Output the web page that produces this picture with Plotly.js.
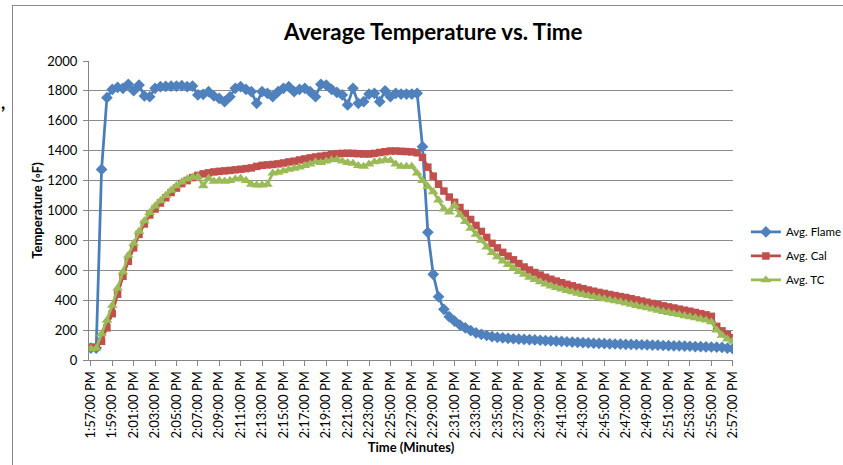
<!DOCTYPE html>
<html>
<head>
<meta charset="utf-8">
<script src="https://cdn.plot.ly/plotly-3.0.1.min.js"></script>
<style>
  html, body { margin:0; padding:0; background:#fff; }
  #wrap { position:relative; width:843px; height:465px; overflow:hidden; }
  #chart { position:absolute; left:0; top:0; width:843px; height:465px; }
  #frame { position:absolute; left:12px; top:5px; width:900px; height:500px;
           border-left:1px solid #8a8a8a; border-top:1px solid #8a8a8a; pointer-events:none; }
</style>
</head>
<body>
<div id="wrap">
  <div id="chart"></div>
  <div id="frame"></div>
</div>
<script>
// Categories: one reading every 30 seconds
var times = [
  "1:57:00 PM","1:57:30 PM","1:58:00 PM","1:58:30 PM","1:59:00 PM","1:59:30 PM",
  "2:00:00 PM","2:00:30 PM","2:01:00 PM","2:01:30 PM","2:02:00 PM","2:02:30 PM",
  "2:03:00 PM","2:03:30 PM","2:04:00 PM","2:04:30 PM","2:05:00 PM","2:05:30 PM",
  "2:06:00 PM","2:06:30 PM","2:07:00 PM","2:07:30 PM","2:08:00 PM","2:08:30 PM",
  "2:09:00 PM","2:09:30 PM","2:10:00 PM","2:10:30 PM","2:11:00 PM","2:11:30 PM",
  "2:12:00 PM","2:12:30 PM","2:13:00 PM","2:13:30 PM","2:14:00 PM","2:14:30 PM",
  "2:15:00 PM","2:15:30 PM","2:16:00 PM","2:16:30 PM","2:17:00 PM","2:17:30 PM",
  "2:18:00 PM","2:18:30 PM","2:19:00 PM","2:19:30 PM","2:20:00 PM","2:20:30 PM",
  "2:21:00 PM","2:21:30 PM","2:22:00 PM","2:22:30 PM","2:23:00 PM","2:23:30 PM",
  "2:24:00 PM","2:24:30 PM","2:25:00 PM","2:25:30 PM","2:26:00 PM","2:26:30 PM",
  "2:27:00 PM","2:27:30 PM","2:28:00 PM","2:28:30 PM","2:29:00 PM","2:29:30 PM",
  "2:30:00 PM","2:30:30 PM","2:31:00 PM","2:31:30 PM","2:32:00 PM","2:32:30 PM",
  "2:33:00 PM","2:33:30 PM","2:34:00 PM","2:34:30 PM","2:35:00 PM","2:35:30 PM",
  "2:36:00 PM","2:36:30 PM","2:37:00 PM","2:37:30 PM","2:38:00 PM","2:38:30 PM",
  "2:39:00 PM","2:39:30 PM","2:40:00 PM","2:40:30 PM","2:41:00 PM","2:41:30 PM",
  "2:42:00 PM","2:42:30 PM","2:43:00 PM","2:43:30 PM","2:44:00 PM","2:44:30 PM",
  "2:45:00 PM","2:45:30 PM","2:46:00 PM","2:46:30 PM","2:47:00 PM","2:47:30 PM",
  "2:48:00 PM","2:48:30 PM","2:49:00 PM","2:49:30 PM","2:50:00 PM","2:50:30 PM",
  "2:51:00 PM","2:51:30 PM","2:52:00 PM","2:52:30 PM","2:53:00 PM","2:53:30 PM",
  "2:54:00 PM","2:54:30 PM","2:55:00 PM","2:55:30 PM","2:56:00 PM","2:56:30 PM",
  "2:57:00 PM"
];

var tickLabels = [
  "1:57:00 PM","1:59:00 PM","2:01:00 PM","2:03:00 PM","2:05:00 PM","2:07:00 PM",
  "2:09:00 PM","2:11:00 PM","2:13:00 PM","2:15:00 PM","2:17:00 PM","2:19:00 PM",
  "2:21:00 PM","2:23:00 PM","2:25:00 PM","2:27:00 PM","2:29:00 PM","2:31:00 PM",
  "2:33:00 PM","2:35:00 PM","2:37:00 PM","2:39:00 PM","2:41:00 PM","2:43:00 PM",
  "2:45:00 PM","2:47:00 PM","2:49:00 PM","2:51:00 PM","2:53:00 PM","2:55:00 PM",
  "2:57:00 PM"
];

var avgFlame = [
  80,80,1275,1755,1810,1824,1817,1844,1801,1839,
  1766,1761,1817,1828,1830,1832,1832,1835,1828,1832,
  1773,1777,1795,1766,1750,1728,1761,1817,1828,1810,
  1795,1717,1795,1784,1761,1795,1817,1828,1795,1810,
  1817,1795,1761,1844,1839,1810,1790,1773,1706,1817,
  1717,1728,1779,1784,1728,1801,1761,1784,1779,1779,
  1779,1784,1427,854,573,423,339,290,260,234,
  215,197,182,172,164,157,152,148,145,142,
  140,138,136,134,132,130,128,126,124,122,
  120,118,116,114,112,111,110,108,107,106,
  105,104,103,102,101,100,99,97,96,95,
  94,93,92,90,89,88,87,86,84,80,
  76
];

var avgCal = [
  85,85,125,215,310,440,560,660,750,840,
  910,970,1010,1050,1085,1120,1150,1180,1200,1220,
  1235,1245,1252,1258,1262,1265,1268,1272,1276,1280,
  1285,1295,1302,1305,1308,1312,1318,1325,1330,1338,
  1345,1352,1358,1363,1368,1375,1380,1382,1383,1382,
  1380,1378,1378,1382,1388,1393,1398,1398,1396,1394,
  1392,1386,1355,1290,1230,1175,1130,1090,1055,1020,
  980,940,900,860,820,780,750,720,695,670,
  645,622,602,585,568,553,540,528,517,506,
  496,486,477,468,460,452,445,438,431,424,
  418,410,402,394,386,378,370,362,355,348,
  340,333,326,318,310,302,292,225,195,170,
  150
];

var avgTC = [
  75,78,175,265,365,480,590,700,780,860,
  930,985,1030,1065,1100,1135,1165,1190,1210,1222,
  1225,1165,1215,1195,1200,1195,1200,1210,1215,1200,
  1175,1170,1170,1175,1250,1255,1265,1275,1282,1290,
  1300,1310,1325,1320,1330,1338,1340,1330,1320,1315,
  1300,1295,1310,1325,1330,1338,1335,1310,1295,1295,
  1295,1250,1200,1160,1125,1070,1010,990,1035,970,
  925,880,840,800,755,718,690,662,638,615,
  592,572,553,537,522,508,495,484,474,464,
  455,446,438,430,423,416,409,402,395,388,
  380,372,364,356,348,340,332,324,317,310,
  303,296,289,282,274,266,255,200,165,140,
  125
];

var FONT = "Lato, 'Open Sans', sans-serif";

var traces = [
  { name:"Avg. Flame", x:times, y:avgFlame, type:"scatter", mode:"lines+markers",
    legendgroup:"a",
    line:{color:"#4A7EBB", width:2.75},
    marker:{symbol:"diamond", size:9, color:"#4F81BD", line:{width:0}} },
  { name:"Avg. Cal", x:times, y:avgCal, type:"scatter", mode:"lines+markers",
    legendgroup:"b",
    line:{color:"#BE4B48", width:2.75},
    marker:{symbol:"square", size:7.5, color:"#C0504D", line:{width:0}} },
  { name:"Avg. TC", x:times, y:avgTC, type:"scatter", mode:"lines+markers",
    legendgroup:"c",
    line:{color:"#98B954", width:2.75},
    marker:{symbol:"triangle-up", size:9.5, color:"#9BBB59", line:{width:0}} }
];

var layout = {
  width:843, height:465,
  margin:{l:89, r:110, t:61, b:105, pad:0, autoexpand:false},
  paper_bgcolor:"#ffffff", plot_bgcolor:"#ffffff",
  font:{family:FONT, size:13, color:"#000000"},
  title:{text:"<b>Average Temperature vs. Time</b>", font:{family:FONT, size:22.4, color:"#000"},
         x:0.514, xanchor:"center", y:0.931, yanchor:"middle"},
  xaxis:{type:"category", range:[-0.35, 120.05], fixedrange:true,
         tickmode:"array", tickvals:tickLabels, ticktext:tickLabels, tickangle:-90,
         ticks:"outside", ticklen:5, tickcolor:"#868686", tickwidth:1,
         showline:true, linecolor:"#868686", linewidth:1,
         showgrid:false, zeroline:false, automargin:false,
         tickfont:{family:FONT, size:13, color:"#000"},
         title:{text:"<b>Time (Minutes)</b>", font:{family:FONT, size:13, color:"#000"}, standoff:0}},
  yaxis:{range:[0,2000], tick0:0, dtick:200, fixedrange:true,
         ticks:"outside", ticklen:5, tickcolor:"#868686", tickwidth:1,
         showline:true, linecolor:"#868686", linewidth:1,
         showgrid:true, gridcolor:"#8c8c8c", gridwidth:1, zeroline:false, automargin:false,
         ticklabelstandoff:3,
         tickfont:{family:FONT, size:13, color:"#000"},
         title:{text:"<b>Temperature (◦F)</b>", font:{family:FONT, size:13, color:"#000"}, standoff:1}},
  showlegend:true,
  legend:{x:1.02, y:0.477, xanchor:"left", yanchor:"top", tracegroupgap:5,
          bgcolor:"rgba(0,0,0,0)", font:{family:FONT, size:11.5, color:"#000"}},
  annotations:[
    {text:"<b>,</b>", xref:"paper", yref:"paper", x:-0.134, y:0.863, showarrow:false,
     font:{family:FONT, size:18, color:"#000"}, xanchor:"center", yanchor:"middle"}
  ]
};

Plotly.newPlot("chart", traces, layout, {displayModeBar:false, staticPlot:true});
</script>
</body>
</html>
